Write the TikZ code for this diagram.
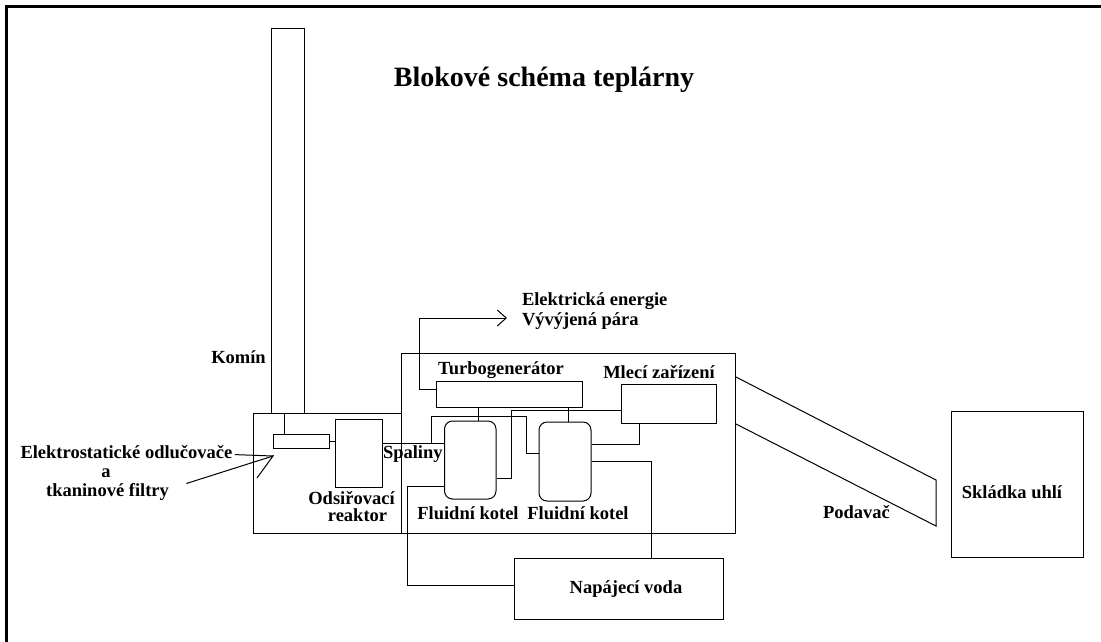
\documentclass[tikz,border=0pt]{standalone}
\usepackage{fontspec}
\setmainfont{Liberation Serif}
\usetikzlibrary{arrows.meta}

\begin{document}
\begin{tikzpicture}[x=1pt,y=-1pt,line width=1pt,
  box/.style={draw,inner sep=0pt},
  kotel/.style={box,rounded corners=8pt},
  lbl/.style={font=\bfseries\fontsize{18.5}{19}\selectfont,inner sep=2pt}]
\useasboundingbox (0,0) rectangle (1101,641);
% Frame
\draw[line width=2.5pt] (6.25,645) -- (6.25,6.25) -- (1105,6.25);
% Title
\node[lbl,font=\bfseries\fontsize{28}{30}\selectfont,anchor=base] (nadpis) at (544,86) {Blokové schéma teplárny};
% Boxes
\node[box,minimum width=32.5pt,minimum height=385pt] (komin) at (287.75,220.5) {};
\node[box,minimum width=148.5pt,minimum height=120pt] (odlucovac) at (327.25,473) {};
\node[box,minimum width=334pt,minimum height=180pt] (hala) at (568.5,443) {};
\node[box,minimum width=56pt,minimum height=14pt] (filtr) at (301,441) {};
\node[box,minimum width=47pt,minimum height=68.5pt] (reaktor) at (358.5,453.25) {};
\node[box,minimum width=146pt,minimum height=26pt] (turbo) at (509,394) {};
\node[box,minimum width=95pt,minimum height=39pt] (mlyn) at (668.5,403.5) {};
\node[kotel,minimum width=51.5pt,minimum height=78pt] (kotel1) at (470.25,460) {};
\node[kotel,minimum width=52pt,minimum height=79pt] (kotel2) at (565,461.5) {};
\node[box,minimum width=209pt,minimum height=61pt] (voda) at (618.5,588.5) {};
\node[box,minimum width=132pt,minimum height=146pt] (skladka) at (1017,484) {};
% Labels
\node[lbl,anchor=base] (l-komin) at (238.5,363) {Komín};
\node[lbl,anchor=base west] (l-odl) at (18,458) {Elektrostatické odlučovače};
\node[lbl,anchor=base] (l-a) at (106,477) {a};
\node[lbl,anchor=base] (l-filtry) at (107.5,496) {tkaninové filtry};
\node[lbl,anchor=base] (l-reaktor1) at (351.5,504) {Odsiřovací};
\node[lbl,anchor=base] (l-reaktor2) at (357.5,521) {reaktor};
\node[lbl,anchor=base west] (l-spaliny) at (380.5,458) {Spaliny};
\node[lbl,anchor=base] (l-kotel1) at (468,519) {Fluidní kotel};
\node[lbl,anchor=base] (l-kotel2) at (578,519) {Fluidní kotel};
\node[lbl,anchor=base] (l-turbo) at (501,374) {Turbogenerátor};
\node[lbl,anchor=base] (l-mlyn) at (659,378) {Mlecí zařízení};
\node[lbl,anchor=base] (l-voda) at (626,593) {Napájecí voda};
\node[lbl,anchor=base west] (l-energie) at (519.5,305) {Elektrická energie};
\node[lbl,anchor=base west] (l-para) at (519.5,325) {Vývýjená pára};
\node[lbl,anchor=base] (l-podavac) at (856.5,518) {Podavač};
\node[lbl,anchor=base] (l-skladka) at (1012,498) {Skládka uhlí};
% Free ends
\coordinate (hrot) at (273,456);
\coordinate (odbocka) at (431,443);
\coordinate (vystup) at (507,318);
\coordinate (pod1) at (936,480);
\coordinate (pod2) at (936,526);
% Filter side
\draw ([xshift=12pt]filtr.north west) -- ([xshift=12pt]filtr.north west |- odlucovac.north);
\draw (filtr.east) -- (filtr.east -| reaktor.west);
\draw ([yshift=-3pt]l-odl.east) -- (hrot);
\draw ([shift={(15,-8)}]l-filtry.east) -- (hrot) -- ++(-16,22);
% Flue gas
\draw ([yshift=10.25pt]reaktor.east) -- ([yshift=10.25pt]reaktor.east -| kotel1.west);
\draw (odbocka) |- (526,416) |- ([yshift=8.5pt]kotel2.west);
% Turbogenerator
\draw ([xshift=-31pt]turbo.south) -- ([xshift=-31pt]turbo.south |- kotel1.north);
\draw ([xshift=59pt]turbo.south) -- ([xshift=59pt]turbo.south |- kotel2.north);
\draw[-{Straight Barb[length=9pt,width=16pt]}] ([yshift=5pt]turbo.west) -- ++(-16,0) |- (vystup);
% Mill
\draw ([yshift=-6.5pt]mlyn.west) -| (511,478) -- ([yshift=-18pt]kotel1.east);
\draw ([yshift=17.5pt]kotel2.east) -| ([xshift=-29.5pt]mlyn.south);
% Feed water
\draw (kotel2.east) -| ([xshift=32.5pt]voda.north);
\draw ([yshift=-26pt]kotel1.west) -| ([xshift=-106pt,yshift=3.5pt]voda.west) -- ([yshift=3.5pt]voda.west);
% Feeder
\draw ([yshift=66pt]hala.east) -- (pod1) -- (pod2) -- ([yshift=19pt]hala.east);
\end{tikzpicture}
\end{document}
